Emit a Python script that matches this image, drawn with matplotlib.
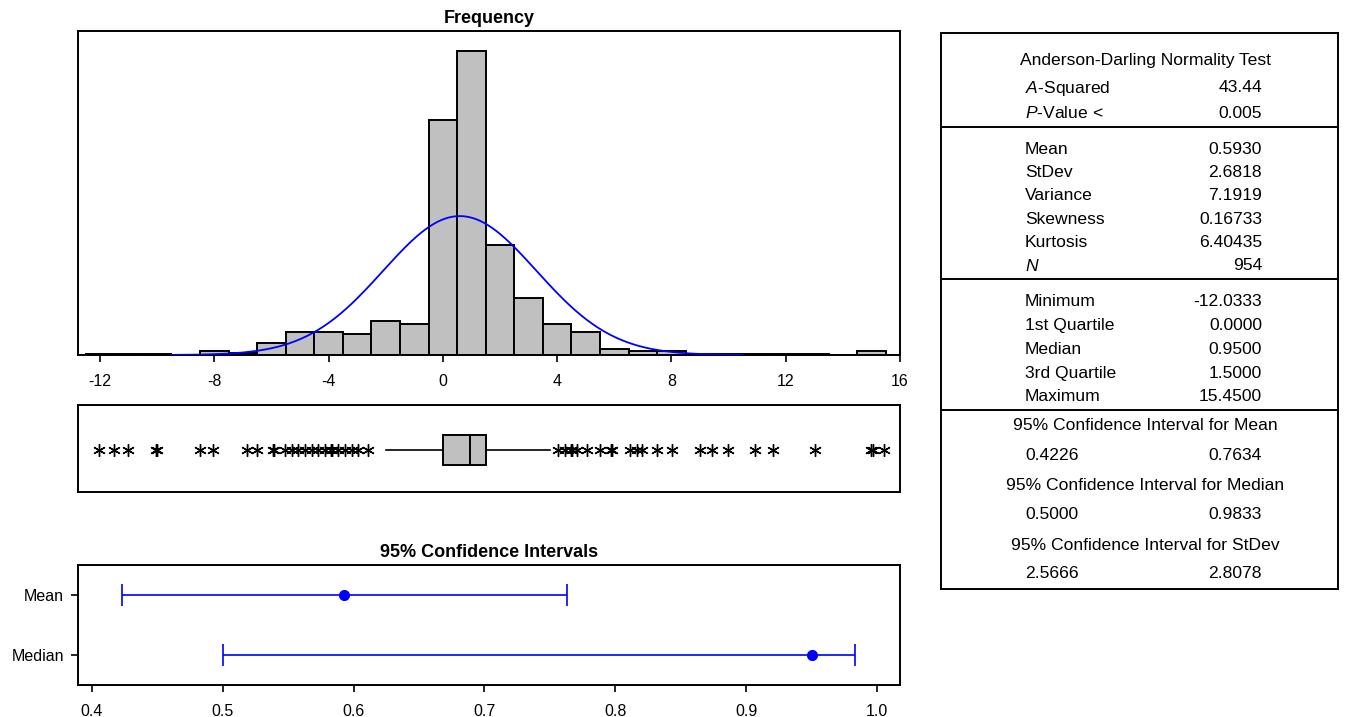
import numpy as np
import matplotlib
matplotlib.use("Agg")
import matplotlib.pyplot as plt

plt.rcParams["font.family"] = ["Liberation Sans", "DejaVu Sans"]
plt.rcParams["axes.unicode_minus"] = False
plt.rcParams["mathtext.fontset"] = "custom"
plt.rcParams["mathtext.it"] = "Liberation Sans:italic"
plt.rcParams["mathtext.rm"] = "Liberation Sans"

# histogram: bins of width 1 centred on integers
bin_centers = np.arange(-12, 16)
bin_counts = [1, 1, 1, 0, 4, 2, 12, 23, 23, 21, 35, 32, 240, 311,
              112, 58, 32, 23, 6, 4, 4, 1, 1, 1, 1, 1, 0, 4]
hist_ticks = [-12, -8, -4, 0, 4, 8, 12, 16]

# summary statistics
n_obs = 954
mean_val = 0.5930
stdev_val = 2.6818
q1_val, median_val, q3_val = 0.0, 0.95, 1.5
whisker_lo, whisker_hi = -2.0, 3.75
outliers = [-12.0333, -11.51, -11.01, -10.05, -10.0, -8.5, -8.04, -6.87, -6.52,
            -5.95, -5.9, -5.53, -5.29, -5.06, -4.83, -4.59, -4.36, -4.13, -3.9,
            -3.87, -3.66, -3.43, -3.19, -2.96, -2.61,
            4.04, 4.27, 4.5, 4.53, 4.68, 5.03, 5.5, 5.9, 5.93, 6.55, 6.78, 6.96,
            7.48, 8.01, 9.0, 9.41, 9.99, 10.92, 11.56, 13.02, 15.0, 15.05, 15.45]

# confidence intervals
ci_names = ["Mean", "Median"]
ci_est = [0.5930, 0.9500]
ci_low = [0.4226, 0.5000]
ci_high = [0.7634, 0.9833]
ci_ticks = [0.4, 0.5, 0.6, 0.7, 0.8, 0.9, 1.0]

# summary table text
ad_title = "Anderson-Darling Normality Test"
ad_labels = [r"$\mathit{A}$-Squared", r"$\mathit{P}$-Value <"]
ad_values = ["43.44", "0.005"]
desc_labels = ["Mean", "StDev", "Variance", "Skewness", "Kurtosis", r"$\mathit{N}$"]
desc_values = ["0.5930", "2.6818", "7.1919", "0.16733", "6.40435", "954"]
quant_labels = ["Minimum", "1st Quartile", "Median", "3rd Quartile", "Maximum"]
quant_values = ["-12.0333", "0.0000", "0.9500", "1.5000", "15.4500"]
ci_titles = ["95% Confidence Interval for Mean",
             "95% Confidence Interval for Median",
             "95% Confidence Interval for StDev"]
ci_pairs = [("0.4226", "0.7634"), ("0.5000", "0.9833"), ("2.5666", "2.8078")]

W, H = 1354, 717
fig = plt.figure(figsize=(W / 100, H / 100), dpi=100)


def px_axes(x0, y0, x1, y1):
    return fig.add_axes([x0 / W, 1 - y1 / H, (x1 - x0) / W, (y1 - y0) / H])


gray = "#C0C0C0"
blue = "#0000FF"
xlim_hist = (-12.77, 16.0)
tick_fs = 11.5

# ---- histogram
ax = px_axes(78, 31, 900, 355)
ax.bar(bin_centers, bin_counts, width=1.0, color=gray, edgecolor="black",
       linewidth=1.4, zorder=2)
xs = np.linspace(-9.5, 10.5, 400)
pdf = n_obs * np.exp(-0.5 * ((xs - mean_val) / stdev_val) ** 2) / (stdev_val * np.sqrt(2 * np.pi))
ax.plot(xs, pdf, color=blue, linewidth=1.3, zorder=3)
ax.set_xlim(*xlim_hist)
ax.set_ylim(0, 331)
ax.set_yticks([])
ax.set_xticks(hist_ticks)
ax.set_xticklabels([str(t) for t in hist_ticks])
ax.tick_params(axis="x", direction="out", length=5, width=1.2, labelsize=tick_fs, pad=9)
ax.set_title("Frequency", fontsize=13, fontweight="bold", pad=6)
for sp in ax.spines.values():
    sp.set_linewidth(1.4)

# ---- box plot
axb = px_axes(78, 405, 900, 492)
stats = [{"med": median_val, "q1": q1_val, "q3": q3_val,
          "whislo": whisker_lo, "whishi": whisker_hi, "fliers": outliers}]
axb.bxp(stats, positions=[0.483], widths=0.345, vert=False, patch_artist=True,
        showcaps=False,
        boxprops=dict(facecolor=gray, edgecolor="black", linewidth=1.4),
        medianprops=dict(color="black", linewidth=1.4),
        whiskerprops=dict(color="black", linewidth=1.2),
        flierprops=dict(marker=(6, 2, 0), markersize=9, markeredgecolor="black",
                        markeredgewidth=1.0, linestyle="none"))
axb.set_xlim(*xlim_hist)
axb.set_ylim(0, 1)
axb.set_xticks([])
axb.set_yticks([])
for sp in axb.spines.values():
    sp.set_linewidth(1.4)

# ---- confidence intervals
axc = px_axes(78, 565, 900, 685)
ypos = [1, 0]
est = np.array(ci_est)
xerr = [est - np.array(ci_low), np.array(ci_high) - est]
axc.errorbar(est, ypos, xerr=xerr, fmt="o", color=blue, ecolor=blue,
             markersize=7, elinewidth=1.2, capsize=8, capthick=1.2)
axc.set_xlim(0.3893, 1.0176)
axc.set_ylim(-0.5, 1.5)
axc.set_yticks(ypos)
axc.set_yticklabels(ci_names)
axc.set_xticks(ci_ticks)
axc.set_xticklabels([f"{t:.1f}" for t in ci_ticks])
axc.tick_params(axis="x", direction="out", length=5, width=1.2, labelsize=tick_fs, pad=9)
axc.tick_params(axis="y", direction="out", length=5, width=1.2, labelsize=11.5, pad=5)
axc.set_title("95% Confidence Intervals", fontsize=13, fontweight="bold", pad=6)
for sp in axc.spines.values():
    sp.set_linewidth(1.4)

# ---- summary table
axt = px_axes(941, 33, 1338, 589)
axt.set_xlim(941, 1338)
axt.set_ylim(589, 33)
axt.set_xticks([])
axt.set_yticks([])
for sp in axt.spines.values():
    sp.set_linewidth(1.4)

fs = 12.6
x_lab, x_val, x_mid = 1025, 1262, 1145
axt.text(x_mid, 60, ad_title, ha="center", va="center", fontsize=fs)
for i, (lab, val) in enumerate(zip(ad_labels, ad_values)):
    y = 88 + i * 25
    axt.text(x_lab, y, lab, ha="left", va="center", fontsize=fs)
    axt.text(x_val, y, val, ha="right", va="center", fontsize=fs)
for i, (lab, val) in enumerate(zip(desc_labels, desc_values)):
    y = 149 + i * 23.4
    axt.text(x_lab, y, lab, ha="left", va="center", fontsize=fs)
    axt.text(x_val, y, val, ha="right", va="center", fontsize=fs)
for i, (lab, val) in enumerate(zip(quant_labels, quant_values)):
    y = 302 + i * 23.7
    axt.text(x_lab, y, lab, ha="left", va="center", fontsize=fs)
    axt.text(x_val, y, val, ha="right", va="center", fontsize=fs)
for i, (title, (lo, hi)) in enumerate(zip(ci_titles, ci_pairs)):
    y = 426 + i * 59.5
    axt.text(x_mid, y, title, ha="center", va="center", fontsize=fs)
    axt.text(x_lab, y + 29, lo, ha="left", va="center", fontsize=fs)
    axt.text(x_val, y + 29, hi, ha="right", va="center", fontsize=fs)
for y in [127, 279, 410]:
    axt.axhline(y, color="black", linewidth=1.4)

fig.savefig("out.png", dpi=100)
